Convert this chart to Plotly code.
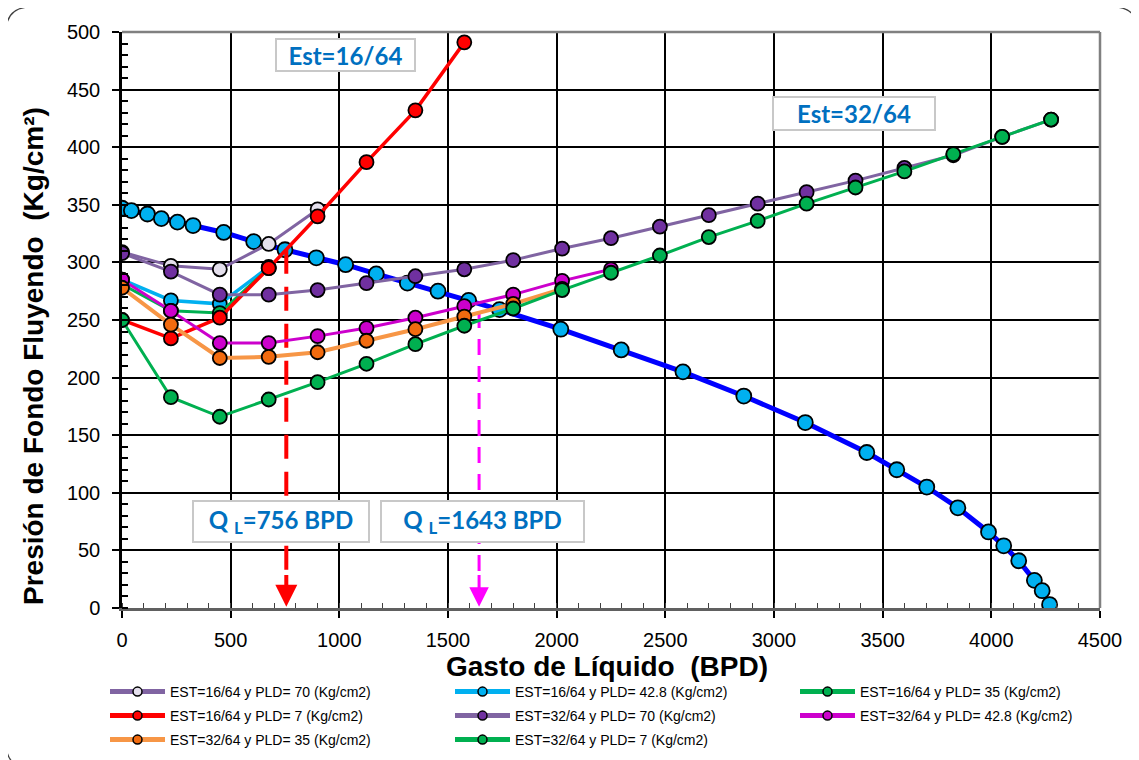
import plotly.graph_objects as go

W, H = 1139, 760
OFF = 8  # page body margin of the html page
# plot area in page pixels: left 122, right 1100, top 32, bottom 608
ML, MT = 122 - OFF, 32 - OFF
MR, MB = W - (1100 - OFF), H - (608 - OFF)
PW, PH = W - ML - MR, H - MT - MB

# ---------------- data ----------------
q_ipr = [0, 43, 117, 181, 255, 327, 468, 606, 750, 894, 1029, 1170, 1313, 1454, 1595,
         1737, 2019, 2297, 2581, 2861, 3144, 3427, 3565, 3703, 3846, 3987, 4057, 4126,
         4198, 4234, 4268]
p_ipr = [347, 345, 342, 338, 335, 332, 326, 318, 311, 304, 298, 290, 282, 275, 267,
         259, 242, 224, 205, 184, 161, 135, 120, 105, 87, 66, 54, 41,
         24, 15, 3]

q_est16 = [0, 225, 450, 675, 900, 1125, 1350, 1575]
p_16_70 = [309, 297, 294, 316, 346]
p_16_428 = [285, 267, 264, 296]
p_16_35 = [281, 258, 256, 295]
p_16_7 = [250, 234, 252, 295, 340, 387, 432, 491]

q_est32 = [0, 225, 450, 675, 900, 1125, 1350, 1575, 1800, 2025, 2250, 2475, 2700,
           2925, 3150, 3375, 3600, 3825, 4050, 4275]
p_32_70 = [308, 292, 272, 272, 276, 282, 288, 294, 302, 312, 321, 331, 341, 351,
           361, 371, 382, 393, 409, 424]
p_32_428 = [285, 258, 230, 230, 236, 243, 252, 262, 272, 284, 294]
p_32_35 = [278, 246, 217, 218, 222, 232, 242, 253, 264, 277]
p_32_7 = [250, 183, 166, 181, 196, 212, 229, 245, 260, 276, 291, 306, 322, 336,
          351, 365, 379, 394, 409, 424]

ql_16, pwf_16 = 756, 311
ql_32, pwf_32 = 1643, 257

x_ticks = [0, 500, 1000, 1500, 2000, 2500, 3000, 3500, 4000, 4500]
y_ticks = [0, 50, 100, 150, 200, 250, 300, 350, 400, 450, 500]

labels = [
    "EST=16/64 y PLD= 70 (Kg/cm2)",
    "EST=16/64 y PLD= 42.8 (Kg/cm2)",
    "EST=16/64 y PLD= 35 (Kg/cm2)",
    "EST=16/64 y PLD= 7 (Kg/cm2)",
    "EST=32/64 y PLD= 70 (Kg/cm2)",
    "EST=32/64 y PLD= 42.8 (Kg/cm2)",
    "EST=32/64 y PLD= 35 (Kg/cm2)",
    "EST=32/64 y PLD= 7 (Kg/cm2)",
]
series_q = [q_est16, q_est16, q_est16, q_est16, q_est32, q_est32, q_est32, q_est32]
series_p = [p_16_70, p_16_428, p_16_35, p_16_7, p_32_70, p_32_428, p_32_35, p_32_7]
line_colors = ["#8064A2", "#00B0F0", "#00B050", "#FF0000",
               "#8064A2", "#CC00CC", "#F79646", "#00B050"]
marker_colors = ["#E4DFEC", "#00B0F0", "#00B050", "#FF0000",
                 "#7030A0", "#CC00CC", "#F26B0F", "#00B050"]
line_widths = [3, 3.5, 3, 3.5, 3, 3, 4, 3]


def px_x(px):  # page pixel -> paper
    return (px - OFF - ML) / PW


def px_y(py):
    return (MT + PH - (py - OFF)) / PH


fig = go.Figure()

# IPR curve
fig.add_trace(go.Scatter(
    x=q_ipr, y=p_ipr, mode="lines+markers", showlegend=False,
    line=dict(color="#0000FF", width=5),
    marker=dict(size=15, color="#00B0F0", line=dict(color="black", width=1.8)),
))

# dashed operating point lines
fig.add_trace(go.Scatter(
    x=[ql_16, ql_16], y=[pwf_16, 28], mode="lines", showlegend=False,
    line=dict(color="#FF0000", width=4, dash="24px,13px"),
))
fig.add_trace(go.Scatter(
    x=[ql_32, ql_32], y=[pwf_32, 28], mode="lines", showlegend=False,
    line=dict(color="#FF00FF", width=3, dash="16px,11px"),
))

for q, p, lc, mc, lw in zip(series_q, series_p, line_colors, marker_colors, line_widths):
    fig.add_trace(go.Scatter(
        x=q[:len(p)], y=p, mode="lines+markers", showlegend=False,
        line=dict(color=lc, width=lw),
        marker=dict(size=14, color=mc, line=dict(color="black", width=1.8)),
    ))

# legend-only entries, one legend box per entry (3 columns x 3 rows)
col_px = [105, 450, 795]
row_px = [692, 716, 740]
legend_layouts = {}
for i, (lab, lc, mc) in enumerate(zip(labels, line_colors, marker_colors)):
    lname = "legend" if i == 0 else f"legend{i + 1}"
    fig.add_trace(go.Scatter(
        x=[None], y=[None], mode="lines+markers", name=lab, legend=lname,
        line=dict(color=lc, width=5),
        marker=dict(size=9, color=mc, line=dict(color="black", width=1.5)),
    ))
    legend_layouts[lname] = dict(
        xref="container", yref="container", xanchor="left", yanchor="middle",
        x=(col_px[i % 3] - OFF) / W, y=1 - (row_px[i // 3] - OFF) / H,
        orientation="h", itemwidth=55,
        font=dict(family="Liberation Sans", size=14, color="black"),
        bgcolor="rgba(0,0,0,0)", borderwidth=0,
    )

annotations = [
    dict(x=ql_16, y=1, ax=ql_16, ay=30, xref="x", yref="y", axref="x", ayref="y",
         text="", showarrow=True, arrowhead=2, arrowsize=1.1, arrowwidth=4,
         arrowcolor="#FF0000"),
    dict(x=ql_32, y=1, ax=ql_32, ay=30, xref="x", yref="y", axref="x", ayref="y",
         text="", showarrow=True, arrowhead=2, arrowsize=1.3, arrowwidth=3,
         arrowcolor="#FF00FF"),
]

box_font = dict(family="Lato", size=24, color="#0070C0")


def box(text, cx, cy, w, h):
    return dict(x=px_x(cx), y=px_y(cy), xref="paper", yref="paper", text=text,
                showarrow=False, font=box_font, bgcolor="white",
                bordercolor="#C8C8C8", borderwidth=2, borderpad=0,
                width=w - 4, height=h - 4, xanchor="center", yanchor="middle")


annotations += [
    box("<b>Est=16/64</b>", 345.5, 55, 141, 34),
    box("<b>Est=32/64</b>", 854, 113.5, 164, 35),
    box("<b>Q <sub>L</sub>=756 BPD</b>", 281, 521.5, 178, 43),
    box("<b>Q <sub>L</sub>=1643 BPD</b>", 482.5, 521.5, 205, 43),
    dict(x=px_x(33), y=px_y(356), xref="paper", yref="paper",
         text="<b>Presión de Fondo Fluyendo \u00a0(Kg/cm²)</b>", textangle=-90,
         showarrow=False, font=dict(family="Liberation Sans", size=28, color="black"),
         xanchor="center", yanchor="middle"),
    dict(x=px_x(607), y=px_y(666), xref="paper", yref="paper",
         text="<b>Gasto de Líquido \u00a0(BPD)</b>",
         showarrow=False, font=dict(family="Liberation Sans", size=28, color="black"),
         xanchor="center", yanchor="middle"),
]

# rounded outer frame (page pixels)
fl, ft, fr, fb, rr = 6, 7, 1138, 768, 25
pts = lambda x, y: f"{px_x(x):.5f},{px_y(y):.5f}"
frame_path = (
    f"M{pts(fl + rr, ft)} L{pts(fr - rr, ft)} Q{pts(fr, ft)} {pts(fr, ft + rr)} "
    f"L{pts(fr, fb - rr)} Q{pts(fr, fb)} {pts(fr - rr, fb)} "
    f"L{pts(fl + rr, fb)} Q{pts(fl, fb)} {pts(fl, fb - rr)} "
    f"L{pts(fl, ft + rr)} Q{pts(fl, ft)} {pts(fl + rr, ft)} Z"
)

shapes = [
    dict(type="path", path=frame_path, xref="paper", yref="paper",
         line=dict(color="#404040", width=1.2), layer="below"),
    dict(type="line", x0=1, x1=1, y0=0, y1=1, xref="paper", yref="paper",
         line=dict(color="#808080", width=2.5), layer="above"),
    dict(type="line", x0=0, x1=1, y0=1, y1=1, xref="paper", yref="paper",
         line=dict(color="#808080", width=2.5), layer="above"),
]

fig.update_layout(
    width=W, height=H,
    margin=dict(l=ML, r=MR, t=MT, b=MB, autoexpand=False),
    paper_bgcolor="white", plot_bgcolor="white",
    font=dict(family="Liberation Sans", color="black"),
    annotations=annotations, shapes=shapes,
    xaxis=dict(
        range=[0, 4500], tickvals=x_ticks, ticks="outside", ticklen=7, tickwidth=1.5,
        tickcolor="black", showline=True, linecolor="#606060", linewidth=2.5,
        showgrid=True, gridcolor="black", gridwidth=2, zeroline=False,
        tickfont=dict(family="Liberation Sans", size=20, color="black"),
        minor=dict(dtick=100, ticks="inside", ticklen=5, tickcolor="#404040",
                   tickwidth=1.2, showgrid=False),
        ticklabelstandoff=5, automargin=False,
    ),
    yaxis=dict(
        range=[0, 500], tickvals=y_ticks, ticks="outside", ticklen=7, tickwidth=1.5,
        tickcolor="black", showline=True, linecolor="black", linewidth=2.5,
        showgrid=True, gridcolor="black", gridwidth=2, zeroline=False,
        tickfont=dict(family="Liberation Sans", size=20, color="black"),
        minor=dict(dtick=10, ticks="inside", ticklen=6, tickcolor="black",
                   tickwidth=1.5, showgrid=False),
        ticklabelstandoff=8, automargin=False,
    ),
)
fig.update_layout(**legend_layouts)

fig.write_html("out.html")
